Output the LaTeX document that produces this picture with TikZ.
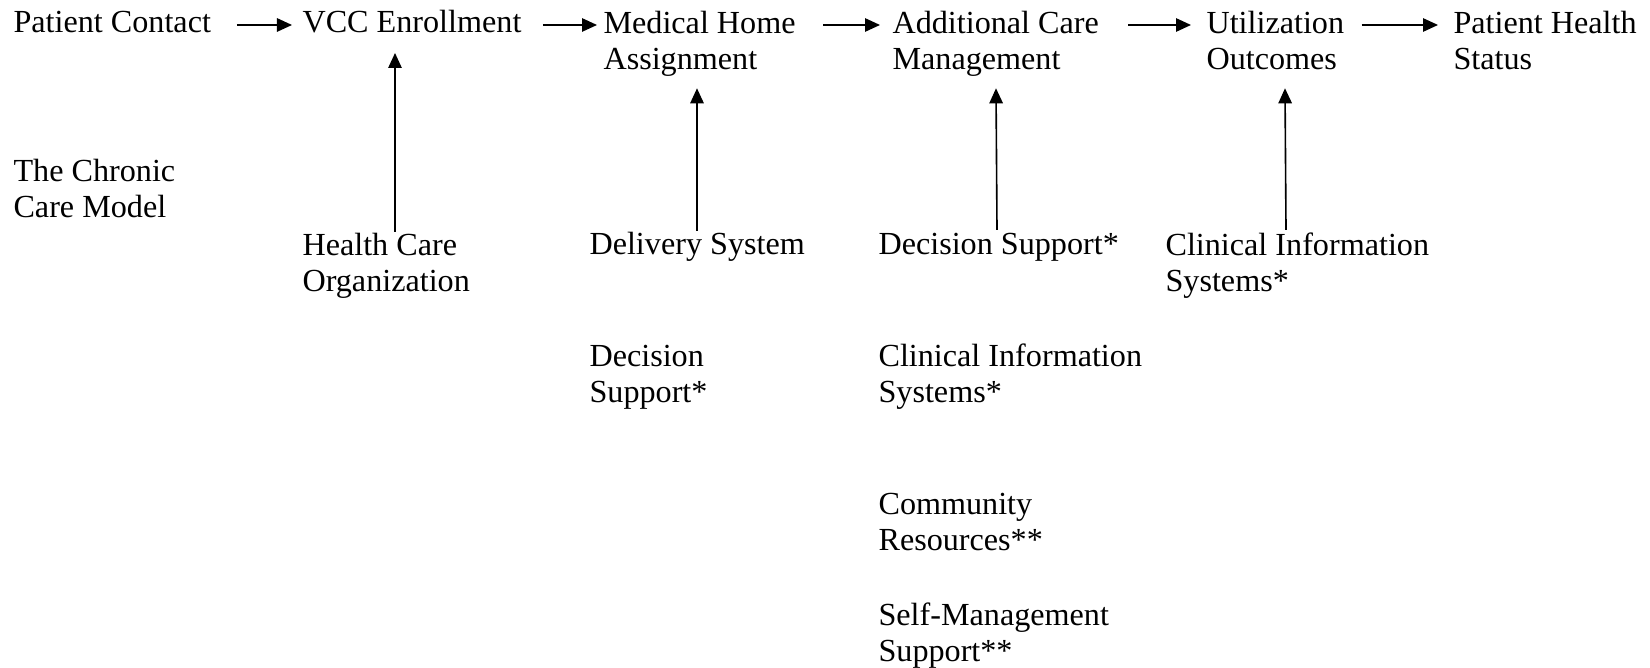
\documentclass[tikz,border=0pt]{standalone}
\usepackage{fontspec}
\setmainfont{Liberation Serif}
\usetikzlibrary{arrows.meta}
\begin{document}
\begin{tikzpicture}[x=0.3731pt,y=-0.3731pt,
        lbl/.style={anchor=base west,inner sep=0pt,align=left,
            font=\fontsize{12pt}{13.8pt}\selectfont},
        flow/.style={line width=0.6pt,-{Triangle[length=5.6pt,width=5pt]}}]
                \useasboundingbox (0,0) rectangle (1650,668);
                % top row (base = last line)
                \node[lbl] (pc) at (13,33) {Patient Contact};
                \node[lbl] (vcc) at (302,33) {VCC Enrollment};
                \node[lbl] (mha) at (603,70) {Medical Home\\Assignment};
                \node[lbl] (acm) at (892,70) {Additional Care\\Management};
                \node[lbl] (uo) at (1206,70) {Utilization\\Outcomes};
                \node[lbl] (phs) at (1453,70) {Patient Health\\Status};
                % chronic care model elements
                \node[lbl] (ccm) at (13,218) {The Chronic\\Care Model};
                \node[lbl] (hco) at (302,292) {Health Care\\Organization};
                \node[lbl] (ds) at (589,255) {Delivery System};
                \node[lbl] (dsa) at (878,255) {Decision Support*};
                \node[lbl] (cisa) at (1165,292) {Clinical Information\\Systems*};
                \node[lbl] (dsb) at (589,403) {Decision\\Support*};
                \node[lbl] (cisb) at (878,403) {Clinical Information\\Systems*};
                \node[lbl] (cr) at (878,551) {Community\\Resources**};
                \node[lbl] (sms) at (878,662) {Self-Management\\Support**};
                % horizontal arrows
                \draw[flow] ([shift={(25.5,-8)}]pc.base east) -- ([shift={(-10,-8)}]vcc.base west);
                \draw[flow] ([shift={(21,-8)}]vcc.base east) -- ([shift={(-6,-45)}]mha.base west);
                \draw[flow] ([shift={(27,-45)}]mha.base east) -- ([shift={(-12,-45)}]acm.base west);
                \draw[flow] ([shift={(29,-45)}]acm.base east) -- ([shift={(-15,-45)}]uo.base west);
                \draw[flow] ([shift={(17,-45)}]uo.base east) -- ([shift={(-15,-45)}]phs.base west);
                % vertical arrows
                \draw[flow] ([shift={(93,-60.3)}]hco.base west) -- ([shift={(93,20)}]vcc.base west);
                \draw[flow] ([shift={(108,-24.3)}]ds.base west) -- ([shift={(94,18.3)}]mha.base west);
                \draw[flow] ([shift={(119,-25)}]dsa.base west) -- ([shift={(104,18.3)}]acm.base west);
                \draw[flow] ([shift={(121,-62)}]cisa.base west) -- ([shift={(79,18.3)}]uo.base west);
\end{tikzpicture}
\end{document}
